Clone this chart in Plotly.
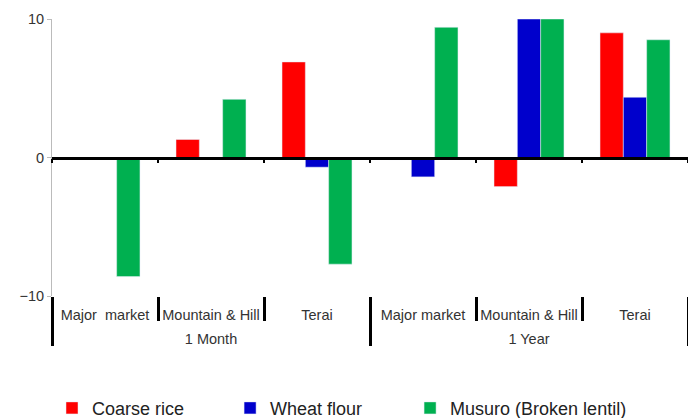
import plotly.graph_objects as go

regions = ["Major  market", "Mountain & Hill", "Terai", "Major market", "Mountain & Hill", "Terai"]
periods = ["1 Month", "1 Year"]
coarse_rice = [None, 1.3, 6.9, -0.15, -2.1, 9.0]
wheat_flour = [None, None, -0.7, -1.4, 10.0, 4.35]
musuro = [-8.6, 4.2, -7.7, 9.4, 10.0, 8.5]
y_ticks = [-10, 0, 10]

pos = list(range(len(regions)))
bounds = [i + 0.5 for i in range(-1, len(regions))]
period_centers = [1, 4]
period_bounds = [-0.5, 2.5, 5.5]
xr = [-0.5, len(regions) - 0.5]

fig = go.Figure()
fig.add_bar(x=pos, y=coarse_rice, name="Coarse rice", marker_color="#ff0000", legend="legend")
fig.add_bar(x=pos, y=wheat_flour, name="Wheat flour", marker_color="#0000cc", legend="legend2")
fig.add_bar(x=pos, y=musuro, name="Musuro (Broken lentil)", marker_color="#00b050", legend="legend3")
# empty traces so the helper axes get drawn
fig.add_scatter(x=[], y=[], xaxis="x2", showlegend=False)
fig.add_scatter(x=[], y=[], xaxis="x3", showlegend=False)

leg = dict(orientation="h", xanchor="left", y=-0.405, yanchor="middle",
           font=dict(size=18, color="#222222"), bgcolor="rgba(0,0,0,0)")

# page body has an 8px margin, so the figure is 8px smaller than the window
fig.update_layout(
    width=688, height=410,
    margin=dict(l=44, r=8, t=11, b=122, autoexpand=False),
    paper_bgcolor="white", plot_bgcolor="white",
    barmode="group", bargap=0.34, bargroupgap=0,
    font=dict(family="Liberation Sans, Arial", color="#333333"),
    legend=dict(leg, x=0.0),
    legend2=dict(leg, x=0.28),
    legend3=dict(leg, x=0.563),
    showlegend=True,
    xaxis=dict(
        range=xr, tickvals=pos, ticktext=regions, showline=False, showgrid=False,
        zeroline=False, ticks="outside", ticklen=6, tickcolor="rgba(0,0,0,0)",
        tickfont=dict(size=14.5, color="#333333"),
        minor=dict(tickmode="array", tickvals=bounds, ticks="outside", ticklen=24,
                   tickwidth=3, tickcolor="black", showgrid=False),
    ),
    xaxis2=dict(
        overlaying="x", matches="x", anchor="free", position=0.5, range=xr,
        showline=True, linecolor="black", linewidth=2.5, showgrid=False, zeroline=False,
        tickvals=bounds, ticks="outside", ticklen=4, tickwidth=2, tickcolor="black",
        showticklabels=False,
    ),
    xaxis3=dict(
        overlaying="x", matches="x", anchor="y", side="bottom", range=xr,
        showline=False, showgrid=False, zeroline=False,
        tickvals=period_centers, ticktext=periods, ticks="outside", ticklen=30,
        tickcolor="rgba(0,0,0,0)", tickfont=dict(size=14.5, color="#333333"),
        minor=dict(tickmode="array", tickvals=period_bounds, ticks="outside", ticklen=49,
                   tickwidth=3, tickcolor="black", showgrid=False),
    ),
    yaxis=dict(
        range=[-10, 10], tickvals=y_ticks, ticks="outside", ticklen=4, tickcolor="#bbbbbb",
        showline=True, linecolor="#bbbbbb", linewidth=1, showgrid=False, zeroline=False,
        tickfont=dict(size=14.5, color="#333333"),
    ),
)
fig.write_html("out.html")
